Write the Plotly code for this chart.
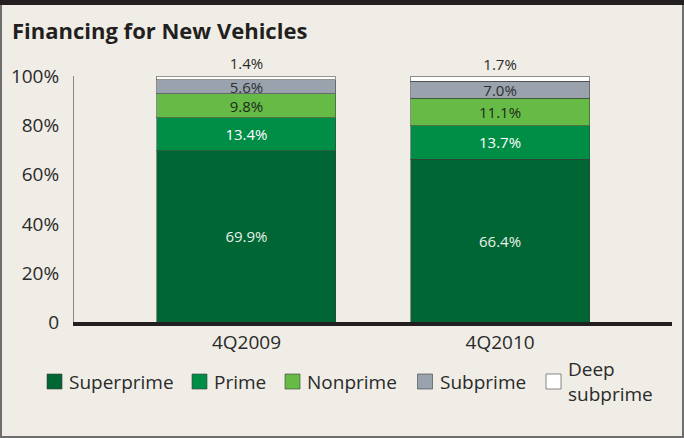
import plotly.graph_objects as go

categories = ["4Q2009", "4Q2010"]
series_names = ["Superprime", "Prime", "Nonprime", "Subprime", "Deep<br>subprime"]
superprime = [69.9, 66.4]
prime = [13.4, 13.7]
nonprime = [9.8, 11.1]
subprime = [5.6, 7.0]
deep_subprime = [1.4, 1.7]
y_tick_vals = [0, 20, 40, 60, 80, 100]
y_tick_text = ["0", "20%", "40%", "60%", "80%", "100%"]

series_values = [superprime, prime, nonprime, subprime, deep_subprime]
colors = ["#006633", "#008d46", "#66bb46", "#9aa3ad", "#ffffff"]
text_colors = ["#e9f1ea", "#ffffff", "#1e2a1c", "#2c2f33", "#2a2a2a"]
positions = ["inside", "inside", "inside", "inside", "outside"]

FONT = "Open Sans"
W, H = 684, 438
L, R, T, B = 74, 12, 76, 116
pw, ph = W - L - R, H - T - B

# legend layout (pixel positions of each swatch's left edge)
legend_px = [47, 192, 285, 417.5, 546]
legend_cy = 381.5
swatch = 15


def px(x):
    return (x - L) / pw


def py(y):
    return (H - B - y) / ph


fig = go.Figure()
for name, vals, col, tcol, pos in zip(series_names, series_values, colors, text_colors, positions):
    fig.add_trace(go.Bar(
        x=categories, y=vals, name=name,
        marker=dict(color=col, line=dict(color="rgba(60,60,60,0.55)", width=1)),
        text=[f"{v:.1f}%" for v in vals],
        textposition=pos, insidetextanchor="middle",
        constraintext="none", cliponaxis=False,
        textfont=dict(family=FONT, size=15, color=tcol),
        width=0.706,
        hoverinfo="skip",
        showlegend=False,
    ))

shapes = [
    dict(type="rect", xref="paper", yref="paper", x0=px(1), x1=px(683), y0=py(437), y1=py(1),
         line=dict(color="#6e6e6e", width=2), layer="below"),
    dict(type="rect", xref="paper", yref="paper", x0=px(0), x1=px(684), y0=py(5), y1=py(0),
         line=dict(width=0), fillcolor="#231f20", layer="above"),
]
annotations = []
for name, col, lx in zip(series_names, colors, legend_px):
    shapes.append(dict(type="rect", xref="paper", yref="paper",
                       x0=px(lx), x1=px(lx + swatch),
                       y0=py(legend_cy + swatch / 2), y1=py(legend_cy - swatch / 2),
                       fillcolor=col, line=dict(color="rgba(60,60,60,0.6)", width=1)))
    annotations.append(dict(text=name, xref="paper", yref="paper",
                            x=px(lx + swatch + 5), y=py(legend_cy),
                            xanchor="left", yanchor="middle", align="left",
                            showarrow=False,
                            font=dict(family=FONT, size=19, color="#2a2a2a")))

fig.update_layout(
    width=W, height=H,
    barmode="stack",
    margin=dict(l=L, r=R, t=T, b=B),
    paper_bgcolor="#f0ede6",
    plot_bgcolor="#f0ede6",
    font=dict(family=FONT, color="#2a2a2a"),
    title=dict(text="<b>Financing for New Vehicles</b>", x=12 / W, xref="container",
               xanchor="left", y=1 - 31 / H, yref="container", yanchor="middle",
               font=dict(family=FONT, size=22, color="#231f20")),
    xaxis=dict(range=[-0.68, 1.678], showline=True, linecolor="#231f20", linewidth=4,
               ticks="", showgrid=False, tickfont=dict(family=FONT, size=19, color="#2a2a2a"),
               fixedrange=True),
    yaxis=dict(range=[0, 100.3], tickvals=y_tick_vals, ticktext=y_tick_text,
               showline=True, linecolor="#8a8a8a", linewidth=1, showgrid=False,
               zeroline=False, ticks="", ticklabelstandoff=10,
               tickfont=dict(family=FONT, size=19, color="#2a2a2a"), fixedrange=True),
    showlegend=False,
    shapes=shapes,
    annotations=annotations,
)

fig.write_html("out.html", config={"displayModeBar": False},
               post_script="document.body.style.margin='0';document.body.style.overflow='hidden';")
